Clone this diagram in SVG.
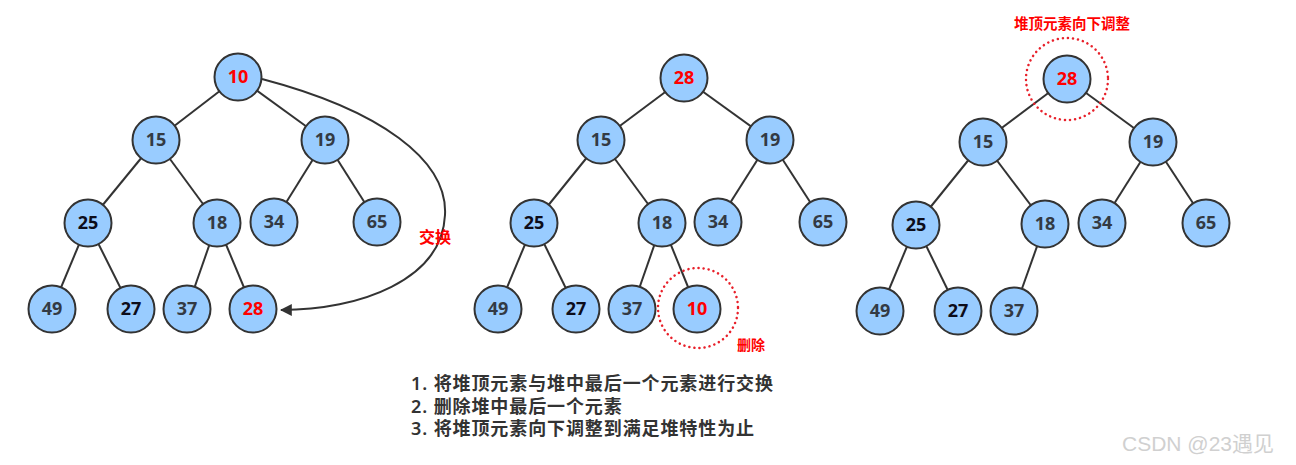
<svg xmlns="http://www.w3.org/2000/svg" width="1296" height="465" viewBox="0 0 1296 465">
<style>
.e{stroke:#333;stroke-width:2;fill:none}
.n circle{fill:#99ccff;stroke:#333;stroke-width:2}
.n text{font-family:"Open Sans","Noto Sans",sans-serif;font-weight:700;font-size:18px;fill:#333a44;text-anchor:middle}
.n text.r{fill:#ff0000}
.n text.k{fill:#0d0d1a}
.lbl{font-family:"Noto Sans CJK SC",sans-serif;font-weight:700;fill:#ff0000;text-anchor:middle}
.dot{fill:none;stroke:#e8202a;stroke-width:2.5;stroke-dasharray:0.1 5;stroke-linecap:round}
.step{font-family:"Noto Sans","Noto Sans CJK SC",sans-serif;font-weight:600;font-size:18px;letter-spacing:0.9px;fill:#333}
</style>
<defs>
<marker id="ah" viewBox="0 0 10 10" refX="9" refY="5" markerWidth="12" markerHeight="12" markerUnits="userSpaceOnUse" orient="auto">
<path d="M0,0 L10,5 L0,10 z" fill="#333"/>
</marker>
</defs>
<rect width="1296" height="465" fill="#fff"/>
<g id="connectors">
<line class="e" x1="238" y1="77" x2="156" y2="140"/>
<line class="e" x1="238" y1="77" x2="325" y2="140"/>
<line class="e" x1="156" y1="140" x2="88" y2="223"/>
<line class="e" x1="156" y1="140" x2="217" y2="223"/>
<line class="e" x1="325" y1="140" x2="274" y2="222"/>
<line class="e" x1="325" y1="140" x2="377" y2="222"/>
<line class="e" x1="88" y1="223" x2="52" y2="309"/>
<line class="e" x1="88" y1="223" x2="131" y2="309"/>
<line class="e" x1="217" y1="223" x2="187" y2="309"/>
<line class="e" x1="217" y1="223" x2="253" y2="309"/>
<path class="e" d="M262 79 C380 110 448 160 445 215 C442 280 360 310 281 310" marker-end="url(#ah)"/>
<line class="e" x1="684" y1="78" x2="601" y2="140"/>
<line class="e" x1="684" y1="78" x2="770" y2="140"/>
<line class="e" x1="601" y1="140" x2="534" y2="223"/>
<line class="e" x1="601" y1="140" x2="662" y2="223"/>
<line class="e" x1="770" y1="140" x2="718" y2="222"/>
<line class="e" x1="770" y1="140" x2="823" y2="222"/>
<line class="e" x1="534" y1="223" x2="498" y2="309"/>
<line class="e" x1="534" y1="223" x2="576" y2="309"/>
<line class="e" x1="662" y1="223" x2="632" y2="309"/>
<line class="e" x1="662" y1="223" x2="697" y2="309"/>
<line class="e" x1="1067" y1="79" x2="983" y2="142"/>
<line class="e" x1="1067" y1="79" x2="1153" y2="142"/>
<line class="e" x1="983" y1="142" x2="916" y2="225"/>
<line class="e" x1="983" y1="142" x2="1045" y2="224"/>
<line class="e" x1="1153" y1="142" x2="1102" y2="223"/>
<line class="e" x1="1153" y1="142" x2="1206" y2="223"/>
<line class="e" x1="916" y1="225" x2="880" y2="311"/>
<line class="e" x1="916" y1="225" x2="958" y2="311"/>
<line class="e" x1="1045" y1="224" x2="1014" y2="311"/>
</g>
<g id="t1-10" class="n"><circle cx="238" cy="77" r="23.5"/><text class="r" x="238" y="83">10</text></g>
<g id="t1-15" class="n"><circle cx="156" cy="140" r="23.5"/><text x="156" y="146">15</text></g>
<g id="t1-19" class="n"><circle cx="325" cy="140" r="23.5"/><text x="325" y="146">19</text></g>
<g id="t1-25" class="n"><circle cx="88" cy="223" r="23.5"/><text class="k" x="88" y="229">25</text></g>
<g id="t1-18" class="n"><circle cx="217" cy="223" r="23.5"/><text x="217" y="229">18</text></g>
<g id="t1-34" class="n"><circle cx="274" cy="222" r="23.5"/><text x="274" y="228">34</text></g>
<g id="t1-65" class="n"><circle cx="377" cy="222" r="23.5"/><text x="377" y="228">65</text></g>
<g id="t1-49" class="n"><circle cx="52" cy="309" r="23.5"/><text x="52" y="315">49</text></g>
<g id="t1-27" class="n"><circle cx="131" cy="309" r="23.5"/><text class="k" x="131" y="315">27</text></g>
<g id="t1-37" class="n"><circle cx="187" cy="309" r="23.5"/><text x="187" y="315">37</text></g>
<g id="t1-28" class="n"><circle cx="253" cy="309" r="23.5"/><text class="r" x="253" y="315">28</text></g>
<text class="lbl" x="435" y="243" font-size="16">交换</text>

<g id="t2-28" class="n"><circle cx="684" cy="78" r="23.5"/><text class="r" x="684" y="84">28</text></g>
<g id="t2-15" class="n"><circle cx="601" cy="140" r="23.5"/><text x="601" y="146">15</text></g>
<g id="t2-19" class="n"><circle cx="770" cy="140" r="23.5"/><text x="770" y="146">19</text></g>
<g id="t2-25" class="n"><circle cx="534" cy="223" r="23.5"/><text class="k" x="534" y="229">25</text></g>
<g id="t2-18" class="n"><circle cx="662" cy="223" r="23.5"/><text x="662" y="229">18</text></g>
<g id="t2-34" class="n"><circle cx="718" cy="222" r="23.5"/><text x="718" y="228">34</text></g>
<g id="t2-65" class="n"><circle cx="823" cy="222" r="23.5"/><text x="823" y="228">65</text></g>
<g id="t2-49" class="n"><circle cx="498" cy="309" r="23.5"/><text x="498" y="315">49</text></g>
<g id="t2-27" class="n"><circle cx="576" cy="309" r="23.5"/><text class="k" x="576" y="315">27</text></g>
<g id="t2-37" class="n"><circle cx="632" cy="309" r="23.5"/><text x="632" y="315">37</text></g>
<g id="t2-10" class="n"><circle cx="697" cy="309" r="23.5"/><text class="r" x="697" y="315">10</text></g>
<circle id="t2-del-ring" class="dot" cx="698" cy="308" r="40"/>
<text class="lbl" x="751" y="350" font-size="14">删除</text>

<g id="t3-28" class="n"><circle cx="1067" cy="79" r="23.5"/><text class="r" x="1067" y="85">28</text></g>
<g id="t3-15" class="n"><circle cx="983" cy="142" r="23.5"/><text x="983" y="148">15</text></g>
<g id="t3-19" class="n"><circle cx="1153" cy="142" r="23.5"/><text x="1153" y="148">19</text></g>
<g id="t3-25" class="n"><circle cx="916" cy="225" r="23.5"/><text class="k" x="916" y="231">25</text></g>
<g id="t3-18" class="n"><circle cx="1045" cy="224" r="23.5"/><text x="1045" y="230">18</text></g>
<g id="t3-34" class="n"><circle cx="1102" cy="223" r="23.5"/><text x="1102" y="229">34</text></g>
<g id="t3-65" class="n"><circle cx="1206" cy="223" r="23.5"/><text x="1206" y="229">65</text></g>
<g id="t3-49" class="n"><circle cx="880" cy="311" r="23.5"/><text x="880" y="317">49</text></g>
<g id="t3-27" class="n"><circle cx="958" cy="311" r="23.5"/><text class="k" x="958" y="317">27</text></g>
<g id="t3-37" class="n"><circle cx="1014" cy="311" r="23.5"/><text x="1014" y="317">37</text></g>
<circle id="t3-top-ring" class="dot" cx="1067" cy="79" r="41"/>
<text class="lbl" x="1072" y="29" font-size="14.5">堆顶元素向下调整</text>

<text id="steps" class="step"><tspan x="411" y="390">1. 将堆顶元素与堆中最后一个元素进行交换</tspan><tspan x="411" y="412.5">2. 删除堆中最后一个元素</tspan><tspan x="411" y="435">3. 将堆顶元素向下调整到满足堆特性为止</tspan></text>
<text x="1122" y="451" font-family="Liberation Sans,Noto Sans CJK SC,sans-serif" font-size="21" fill="#d0d0d0">CSDN @23遇见</text>
</svg>
